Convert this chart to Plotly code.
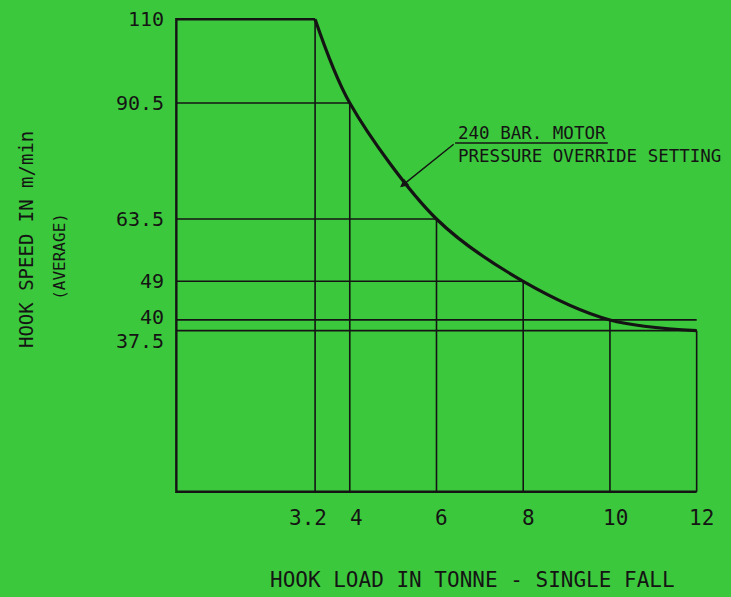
import plotly.graph_objects as go

# Data
loads = [3.2, 4, 6, 8, 10, 12]            # hook load, tonne
speeds = [110, 90.5, 63.5, 49, 40, 37.5]  # hook speed, m/min
ref_line_end = [3.2, 4, 6, 8, 12, 12]     # where each horizontal guide stops
x_tick_labels = ["3.2", "4", "6", "8", "10", "12"]
y_tick_labels = ["110", "90.5", "63.5", "49", "40", "37.5"]

# label nudges (pixels), purely stylistic
x_label_shift = [-7, 7, 5, 5, 6, 5]
y_label_shift = [0, 0, 0, 0, 3, -10]

BG = "#3cc83c"
INK = "#141414"
FONT = "DejaVu Sans Mono"

fig = go.Figure()

# guide lines
gx, gy = [], []
for l, s, e in zip(loads, speeds, ref_line_end):
    gx += [0, e, None, l, l, None]
    gy += [s, s, None, 0, s, None]
fig.add_trace(go.Scatter(x=gx, y=gy, mode="lines",
                         line=dict(color=INK, width=1.6), hoverinfo="skip"))

# frame: left axis, bottom axis, top edge to the curve start
fig.add_trace(go.Scatter(x=[loads[0], 0, 0, loads[-1]],
                         y=[speeds[0], speeds[0], 0, 0], mode="lines",
                         line=dict(color=INK, width=2.4), hoverinfo="skip"))

# override curve
fig.add_trace(go.Scatter(x=loads, y=speeds, mode="lines",
                         line=dict(color=INK, width=3.2, shape="spline", smoothing=0.9),
                         hoverinfo="skip"))

ann = []
for v, t, sh in zip(speeds, y_tick_labels, y_label_shift):
    ann.append(dict(x=0, y=v, xref="x", yref="y", text=t, showarrow=False,
                    xanchor="right", yanchor="middle", xshift=-10, yshift=sh,
                    font=dict(family=FONT, size=20, color=INK)))
for v, t, sh in zip(loads, x_tick_labels, x_label_shift):
    ann.append(dict(x=v, y=0, xref="x", yref="y", text=t, showarrow=False,
                    xanchor="center", yanchor="top", xshift=sh, yshift=-12,
                    font=dict(family=FONT, size=21, color=INK)))

# callout
ann.append(dict(x=5.16, y=70.9, ax=6.43, ay=81.2, xref="x", yref="y",
                axref="x", ayref="y", text="", showarrow=True,
                arrowhead=2, arrowsize=1.2, arrowwidth=1.4, arrowcolor=INK))
ann.append(dict(x=6.45, y=81.2, xref="x", yref="y", text="240 BAR. MOTOR",
                showarrow=False, xanchor="left", yanchor="bottom", yshift=-2,
                font=dict(family=FONT, size=17.5, color=INK)))
ann.append(dict(x=6.45, y=81.2, xref="x", yref="y", text="PRESSURE OVERRIDE SETTING",
                showarrow=False, xanchor="left", yanchor="top", yshift=-1,
                font=dict(family=FONT, size=17.5, color=INK)))

# axis titles
ann.append(dict(x=6.84, y=0, xref="x", yref="paper", yshift=-84,
                text="HOOK LOAD IN TONNE - SINGLE FALL", showarrow=False,
                xanchor="center", yanchor="middle",
                font=dict(family=FONT, size=21, color=INK)))
ann.append(dict(x=0, y=58.6, xref="paper", yref="y", xshift=-146,
                text="HOOK SPEED IN m/min", showarrow=False, textangle=-90,
                xanchor="center", yanchor="middle",
                font=dict(family=FONT, size=19, color=INK)))
ann.append(dict(x=0, y=54.7, xref="paper", yref="y", xshift=-112,
                text="(AVERAGE)", showarrow=False, textangle=-90,
                xanchor="center", yanchor="middle",
                font=dict(family=FONT, size=16, color=INK)))

fig.update_layout(
    width=731, height=597,
    margin=dict(l=172, r=30, t=15, b=101),
    paper_bgcolor=BG, plot_bgcolor=BG,
    showlegend=False,
    annotations=ann,
    shapes=[dict(type="line", xref="x", yref="y", x0=6.43, x1=9.95, y0=81.2, y1=81.2,
                 line=dict(color=INK, width=1.4))],
    xaxis=dict(range=[-0.1, 12.1], showgrid=False, zeroline=False, showline=False,
               showticklabels=False, ticks="", fixedrange=True),
    yaxis=dict(range=[-1, 111], showgrid=False, zeroline=False, showline=False,
               showticklabels=False, ticks="", fixedrange=True),
)

fig.write_html(
    "out.html",
    config={"displayModeBar": False},
    post_script=(
        "document.body.style.margin='0';"
        "document.body.style.overflow='hidden';"
        "document.body.style.background='" + BG + "';"
    ),
)
